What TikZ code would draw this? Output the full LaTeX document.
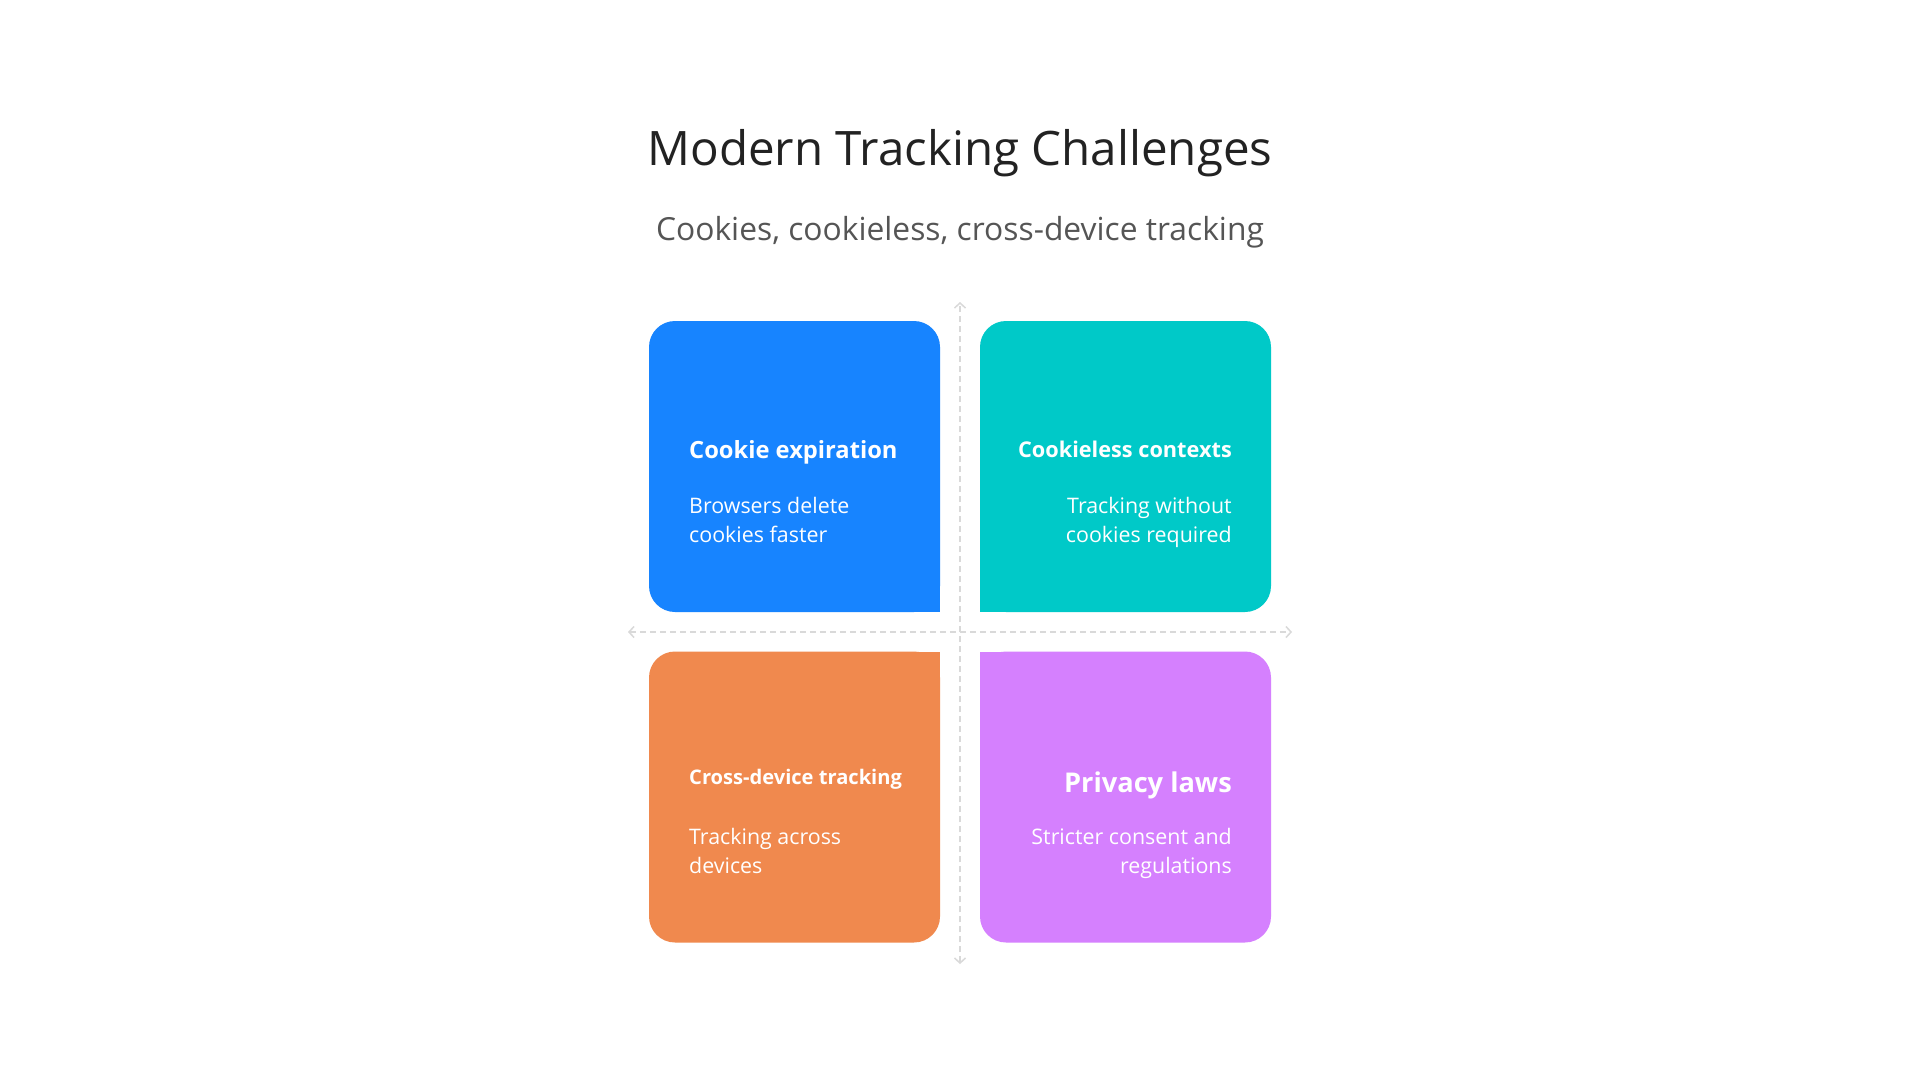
\documentclass[tikz,border=0pt]{standalone}
\usepackage{fontspec}
\setmainfont{Open Sans}
\usetikzlibrary{arrows.meta,positioning,calc}
\definecolor{cblue}{HTML}{1784FF}
\definecolor{cteal}{HTML}{00C9C8}
\definecolor{corange}{HTML}{F0894E}
\definecolor{cpurple}{HTML}{D580FE}
\definecolor{ctitle}{HTML}{222222}
\definecolor{csub}{HTML}{555555}
\definecolor{cgrid}{HTML}{D9D9D9}
\tikzset{
  quad/.style={rounded corners=26pt, minimum width=291pt, minimum height=291pt, inner sep=0pt, outer sep=0pt},
  head/.style={text=white, inner sep=0pt},
  body/.style={text=white, inner sep=0pt, font=\fontsize{21.4}{29}\selectfont},
  axis/.style={draw=cgrid, line width=1.5pt, dash pattern=on 6pt off 4pt,
    {Straight Barb[length=5pt,width=11pt]}-{Straight Barb[length=5pt,width=11pt]}}
}
\begin{document}
\begin{tikzpicture}[x=1pt,y=-1pt]
\useasboundingbox[fill=white] (0,0) rectangle (1920,1080);

\node[anchor=base, text=ctitle, font=\fontsize{47.5}{52}\selectfont] (title) at (960,165) {Modern Tracking Challenges};
\node[anchor=base, text=csub, font=\fontsize{31.8}{36}\selectfont] (subtitle) at (960,240) {Cookies, cookieless, cross-device tracking};

% axes
\coordinate (vtop) at (960,302);
\coordinate (vbot) at (960,964);
\coordinate (hleft) at (628,632);
\coordinate (hright) at (1292,632);
\draw[axis] (vbot) -- (vtop);
\draw[axis] (hleft) -- (hright);

% quadrants, the corner toward the middle stays square
\foreach \name/\col/\cx/\cy/\corner in {expire/cblue/794.5/466.5/south east, cookieless/cteal/1125.5/466.5/south west, crossdev/corange/794.5/797/north east, privacy/cpurple/1125.5/797/north west} {
  \node[quad, fill=\col] (\name) at (\cx,\cy) {};
  \fill[\col] (\name.center) rectangle (\name.\corner);
}

\node[head, anchor=base west, font=\bfseries\fontsize{23.7}{28}\selectfont] (expireh) at (689,458) {Cookie expiration};
\node[body, anchor=base west, align=left] (expireb) at (689,542) {Browsers delete\\cookies faster};

\node[head, anchor=base east, font=\bfseries\fontsize{21.7}{26}\selectfont] (cookielessh) at (1232,457) {Cookieless contexts};
\node[body, anchor=base east, align=right] (cookielessb) at (1232,542) {Tracking without\\cookies required};

\node[head, anchor=base west, font=\bfseries\fontsize{20.1}{24}\selectfont] (crossdevh) at (689,784) {Cross-device tracking};
\node[body, anchor=base west, align=left] (crossdevb) at (689,873) {Tracking across\\devices};

\node[head, anchor=base east, font=\bfseries\fontsize{27.2}{31}\selectfont] (privacyh) at (1232,792) {Privacy laws};
\node[body, anchor=base east, align=right] (privacyb) at (1232,873) {Stricter consent and\\regulations};
\end{tikzpicture}
\end{document}
